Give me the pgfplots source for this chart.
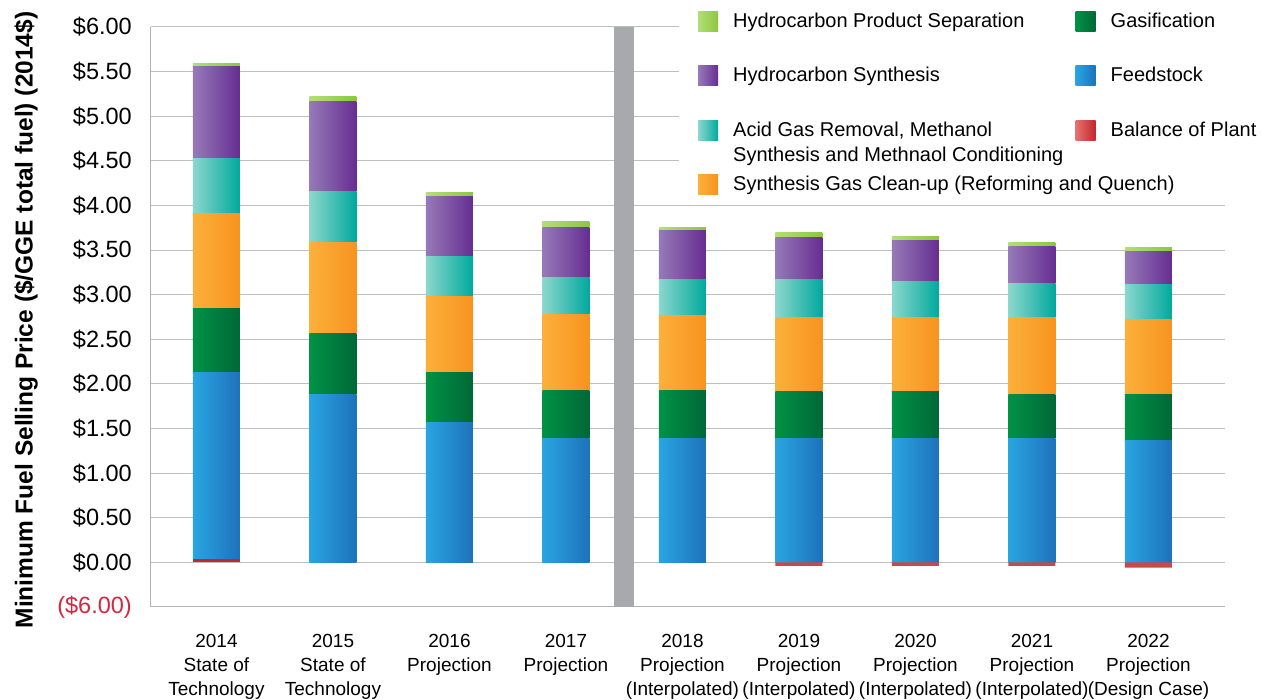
\documentclass[border=0pt]{standalone}
\usepackage{pgfplots}
\pgfplotsset{compat=1.18}
\usepackage{pgfplotstable}
\usepackage{fontspec}
\setmainfont{Liberation Sans}

\definecolor{bopL}{RGB}{232,112,112}\definecolor{bopR}{RGB}{193,39,45}
\definecolor{feedL}{RGB}{41,165,225}\definecolor{feedR}{RGB}{30,114,187}
\definecolor{gasL}{RGB}{0,146,69}\definecolor{gasR}{RGB}{0,104,55}
\definecolor{clnL}{RGB}{251,176,59}\definecolor{clnR}{RGB}{247,147,30}
\definecolor{acidL}{RGB}{140,215,205}\definecolor{acidR}{RGB}{0,169,157}
\definecolor{hcsL}{RGB}{150,122,184}\definecolor{hcsR}{RGB}{102,45,145}
\definecolor{hpsL}{RGB}{178,222,120}\definecolor{hpsR}{RGB}{141,198,63}
\definecolor{gridgray}{RGB}{188,190,192}
\definecolor{axgray}{RGB}{176,178,180}
\definecolor{sepgray}{RGB}{167,169,172}
\definecolor{negred}{RGB}{215,38,61}

\pgfplotstableread{
x BoP Feed Gas Clean Acid HCS HPS
0 0.04 2.09 0.71 1.07 0.62 1.03 0.03
1 0 1.88 0.68 1.02 0.58 1.01 0.05
2 0 1.57 0.56 0.85 0.45 0.67 0.05
3 0 1.39 0.54 0.85 0.41 0.56 0.07
4 0 1.39 0.54 0.84 0.40 0.55 0.03
5 0 1.39 0.52 0.83 0.43 0.47 0.06
6 0 1.39 0.52 0.83 0.41 0.46 0.04
7 0 1.39 0.49 0.86 0.38 0.42 0.04
8 0 1.37 0.51 0.84 0.39 0.37 0.05
}\datatable

\pgfplotstableread{
x BoP
5 -0.04
6 -0.04
7 -0.04
8 -0.06
}\negtable

\pgfplotsset{common/.style={scale only axis, width=1074pt, height=580pt,
  xmin=-0.562, xmax=8.657, ymin=-0.5, ymax=6,
  at={(151pt,93pt)}, anchor=south west},
  shadedseg/.style 2 args={draw=none, fill=none, point meta=explicit symbolic,
    nodes near coords={},
    every node near coord/.style={anchor=north, inner sep=0pt, outer sep=0pt,
      minimum width=47pt, minimum height=\pgfplotspointmeta*89.2308pt,
      yshift=\pgfplotspointmeta*44.6154pt,
      left color=#1, right color=#2, draw=none}}}

\begin{document}
\begin{tikzpicture}
\useasboundingbox (0,0) rectangle (1262pt,700pt);
\begin{axis}[common, ybar stacked, bar width=0.4034, clip=false,
  ymajorgrids, grid style={color=gridgray, line width=1pt},
  axis lines*=left, axis line style={color=axgray, line width=1pt},
  tick style={draw=none}, major tick length=0pt,
  xtick={0,1,2,3,4,5,6,7,8},
  xticklabels={{2014\\State of\\Technology},{2015\\State of\\Technology},{2016\\Projection},{2017\\Projection},
    {2018\\Projection\\(Interpolated)},{2019\\Projection\\(Interpolated)},{2020\\Projection\\(Interpolated)},
    {2021\\Projection\\(Interpolated)},{2022\\Projection\\(Design Case)}},
  xticklabel style={font=\fontsize{19}{24}\selectfont, align=center, inner sep=0pt, yshift=-27pt},
  ytick={-0.5,0,0.5,1,1.5,2,2.5,3,3.5,4,4.5,5,5.5,6},
  yticklabels={{\color{negred}(\$6.00)},\$0.00,\$0.50,\$1.00,\$1.50,\$2.00,\$2.50,\$3.00,\$3.50,\$4.00,\$4.50,\$5.00,\$5.50,\$6.00},
  yticklabel style={font=\fontsize{23.5}{28}\selectfont, inner sep=0pt, xshift=-19pt},
  ylabel={Minimum Fuel Selling Price (\$/GGE total fuel) (2014\$)},
  ylabel style={font=\bfseries\fontsize{24.5}{29}\selectfont, at={(axis description cs:-0.1052,0.4948)}, anchor=south, inner sep=0pt},
]
\fill[white] (axis cs:3.970,4.25) rectangle (axis cs:8.70,6.03);
\addplot[fill=bopR, draw=none] table[x=x, y=BoP] {\datatable};
\addplot[shadedseg={feedL}{feedR}] table[x=x, y=Feed, meta=Feed] {\datatable};
\addplot[shadedseg={gasL}{gasR}] table[x=x, y=Gas, meta=Gas] {\datatable};
\addplot[shadedseg={clnL}{clnR}] table[x=x, y=Clean, meta=Clean] {\datatable};
\addplot[shadedseg={acidL}{acidR}] table[x=x, y=Acid, meta=Acid] {\datatable};
\addplot[shadedseg={hcsL}{hcsR}] table[x=x, y=HCS, meta=HCS] {\datatable};
\addplot[shadedseg={hpsL}{hpsR}] table[x=x, y=HPS, meta=HPS] {\datatable};
\fill[sepgray] (axis cs:3.414,-0.5) rectangle (axis cs:3.586,6);
\end{axis}
\begin{axis}[common, hide axis, ybar, bar width=0.4034,
  legend image code/.code={\path[#1, draw=none] (0pt,-9pt) rectangle (20pt,11pt);},
  legend columns=2, legend cell align=left,
  legend style={fill=none, draw=none, inner xsep=19pt, inner ysep=3pt,
    at={(axis description cs:0.4916,1.0315)}, anchor=north west,
    column sep=15pt, row sep=33.05pt,
    font=\fontsize{20}{25}\selectfont,
    nodes={inner sep=0pt, text height=15pt, text depth=5pt}},
  legend entries={
    {\makebox[327.5pt][l]{Hydrocarbon Product Separation}},
    {Gasification},
    {\makebox[327.5pt][l]{Hydrocarbon Synthesis}},
    {Feedstock},
    {\makebox[327.5pt][l]{\begin{tabular}[t]{@{}l@{}}Acid Gas Removal, Methanol\\Synthesis and Methnaol Conditioning\end{tabular}}},
    {Balance of Plant},
    {\makebox[327.5pt][l]{Synthesis Gas Clean-up (Reforming and Quench)}}
  },
]
\addlegendimage{left color=hpsL, right color=hpsR}
\addlegendimage{left color=gasL, right color=gasR}
\addlegendimage{left color=hcsL, right color=hcsR}
\addlegendimage{left color=feedL, right color=feedR}
\addlegendimage{left color=acidL, right color=acidR}
\addlegendimage{left color=bopL, right color=bopR}
\addlegendimage{left color=clnL, right color=clnR}
\addplot[fill=bopR!85!white, draw=none, bar shift=0pt] table[x=x, y=BoP] {\negtable};
\end{axis}
\end{tikzpicture}
\end{document}
